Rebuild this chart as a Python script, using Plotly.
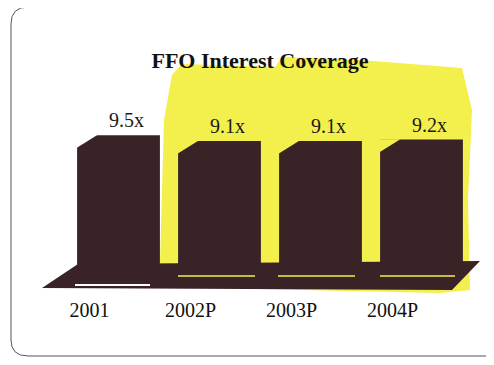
import plotly.graph_objects as go

years = ["2001", "2002P", "2003P", "2004P"]
coverage = [9.5, 9.1, 9.1, 9.2]
labels = ["9.5x", "9.1x", "9.1x", "9.2x"]

BAR = "#3a2327"
YEL = "#f3ef4c"
W = 0.82
SERIF = "Liberation Serif, Times New Roman, serif"

FW, FH = 494, 365
OFF = 8  # page body margin: figure is drawn 8px right/down in the window
# plot area in window pixels: x 68..472, y 128..272
ML, MR, MT, MB = 68 - OFF, FW - (472 - OFF), 128 - OFF, FH - (272 - OFF)
PW, PH = FW - ML - MR, FH - MT - MB


def px(x, y):
    x -= OFF
    y -= OFF
    return f"{(x - ML) / PW:.4f} {(FH - MB - y) / PH:.4f}"


def poly(pts):
    return "M " + " L ".join(px(x, y) for x, y in pts) + " Z"


fig = go.Figure()
fig.add_trace(go.Bar(
    x=list(range(len(years))), y=coverage, width=W,
    marker=dict(color=BAR, line=dict(width=0)),
    hoverinfo="skip",
))

annotations = [
    dict(x=i, y=v, xref="x", yref="y", text=t, showarrow=False,
         yanchor="bottom", xanchor="center", xshift=8, yshift=2,
         font=dict(family=SERIF, size=20, color="#1a1a1a"))
    for i, (v, t) in enumerate(zip(coverage, labels))
]

shapes = []
# border (rounded box)
shapes.append(dict(type="path", xref="paper", yref="paper", layer="below",
    path=f"M {px(28,7)} L {px(510,7)} L {px(510,356)} L {px(28,356)} Q {px(11,356)} {px(11,340)} L {px(11,24)} Q {px(11,7)} {px(28,7)} Z",
    line=dict(color="#555", width=1), fillcolor="rgba(0,0,0,0)"))
# yellow highlight
hl = [(172, 75), (182, 64), (275, 67), (282, 57), (360, 60), (462, 68), (472, 110),
      (468, 200), (470, 290), (440, 293), (165, 287), (160, 262), (164, 120)]
shapes.append(dict(type="path", xref="paper", yref="paper", layer="below",
    path=poly(hl), fillcolor=YEL, line=dict(width=0)))
# floor
floor = [(42, 288), (78, 264), (480, 261), (452, 290)]
shapes.append(dict(type="path", xref="paper", yref="paper", layer="below",
    path=poly(floor), fillcolor=BAR, line=dict(width=0)))
# light edge lines along the floor
shapes.append(dict(type="path", xref="paper", yref="paper", layer="below",
    path=f"M {px(75,285)} L {px(150,285)}", line=dict(color="white", width=2)))
for x0, x1 in [(178, 255), (278, 355), (380, 455)]:
    shapes.append(dict(type="path", xref="paper", yref="paper", layer="below",
        path=f"M {px(x0,276)} L {px(x1,276)}", line=dict(color=YEL, width=1.5)))
# bevel at top-left corners of bars
for i, v in enumerate(coverage):
    x0 = i - W / 2
    bg = "white" if i == 0 else YEL
    shapes.append(dict(type="path", xref="x", yref="y", layer="above",
        path=f"M {x0-0.01} {v+0.02} L {x0-0.01} {v-0.9} L {x0+0.2} {v+0.02} Z",
        fillcolor=bg, line=dict(width=0)))

fig.update_layout(
    width=FW, height=FH,
    margin=dict(l=ML, r=MR, t=MT, b=MB),
    paper_bgcolor="white", plot_bgcolor="rgba(0,0,0,0)",
    showlegend=False,
    title=dict(text="<b>FFO Interest Coverage</b>", x=(260 - OFF) / FW, xanchor="center",
               y=1 - (60 - OFF) / FH, yanchor="middle", automargin=False,
               font=dict(family=SERIF, size=22, color="#111")),
    xaxis=dict(tickmode="array", tickvals=list(range(len(years))), ticktext=years,
               range=[-0.5, 3.5], showgrid=False, zeroline=False, showline=False,
               ticks="", ticklabelshift=-29, ticklabelstandoff=24, automargin=False,
               tickfont=dict(family=SERIF, size=20, color="#111")),
    yaxis=dict(range=[0, 10], visible=False, automargin=False),
    shapes=shapes,
    annotations=annotations,
)
fig.write_html("out.html")
